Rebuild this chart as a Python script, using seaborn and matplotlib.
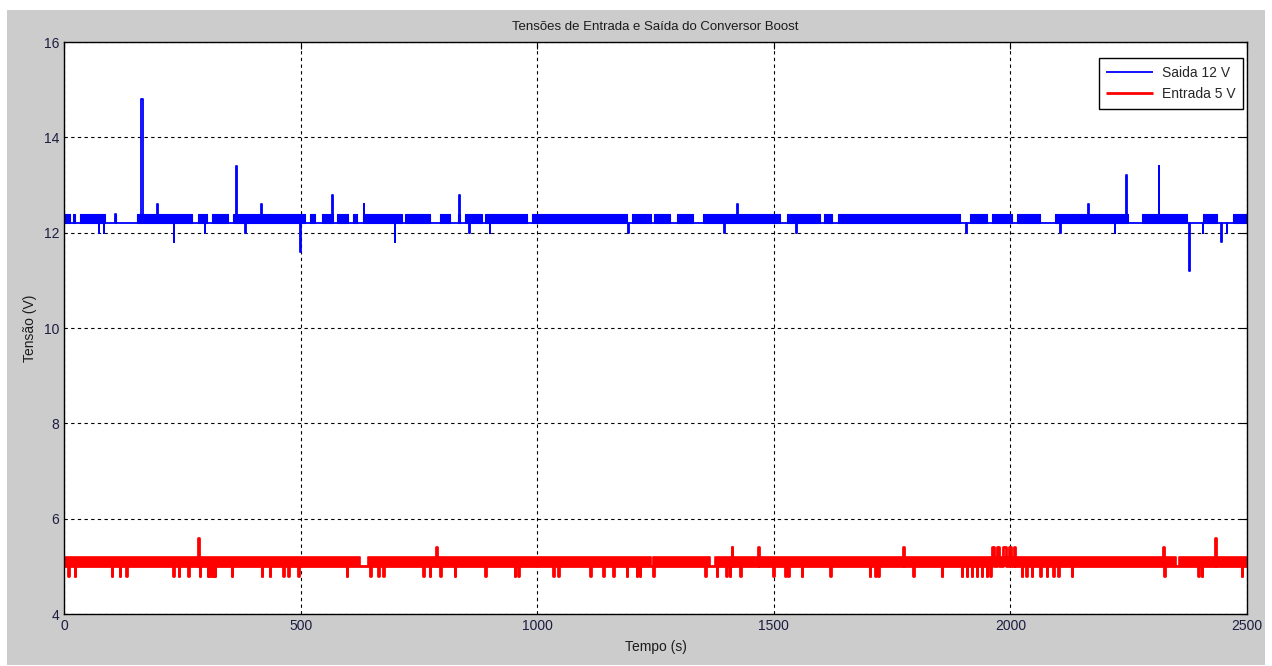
import matplotlib
matplotlib.use("Agg")
import matplotlib.pyplot as plt
import numpy as np
import pandas as pd
import seaborn as sns
from matplotlib.patches import Rectangle

# Output voltage (blue): sits at 12.2 V and flickers up to 12.4 V
saida_low = 12.2
saida_high = 12.4
# stretches where the output stays flat at 12.2 V (no flicker)
saida_gap_start = [13, 23, 87, 109, 270, 302, 347, 509, 530, 569, 600, 619, 714, 773, 816, 837, 883, 978,
                   1190, 1240, 1281, 1329, 1513, 1598, 1623, 1893, 1950, 2003, 2063, 2249, 2373, 2436]
saida_gap_end = [19, 34, 107, 154, 283, 313, 357, 520, 545, 577, 611, 632, 721, 795, 833, 847, 890, 989,
                 1200, 1246, 1295, 1350, 1528, 1606, 1636, 1915, 1961, 2014, 2094, 2278, 2407, 2471]
# spikes and dips: time (s), value (V), duration (s)
saida_ev_t = [73, 84, 108, 163, 196, 232, 298, 363, 383, 416, 499, 566, 634, 699, 835, 856, 900, 1192,
              1395, 1422, 1546, 1907, 2105, 2164, 2221, 2244, 2313, 2377, 2407, 2445, 2457]
saida_ev_v = [12.0, 12.0, 12.4, 14.8, 12.6, 11.8, 12.0, 13.4, 12.0, 12.6, 11.6, 12.8, 12.6, 11.8, 12.8, 12.0,
              12.0, 12.0, 12.0, 12.6, 12.0, 12.0, 12.0, 12.6, 12.0, 13.2, 13.4, 11.2, 12.0, 11.8, 12.0]
saida_ev_d = [1, 1, 1, 4, 2, 1, 1, 3, 1, 2, 1, 2, 1, 1, 2, 1, 1, 1, 1, 2, 2, 1, 1, 2, 1, 3, 2, 2, 1, 2, 1]

# Input voltage (red): sits at 5.0 V and flickers up to 5.2 V
entrada_low = 5.0
entrada_high = 5.2
entrada_gap_start = [626, 1240, 1365, 1460, 2350]
entrada_gap_end = [643, 1244, 1376, 1463, 2356]
entrada_ev_t = [9, 23, 101, 118, 132, 231, 242, 263, 283, 287, 304, 309, 314, 319, 354, 418, 435, 463, 474,
                495, 597, 647, 664, 675, 759, 773, 787, 795, 826, 890, 953, 960, 1034, 1045, 1112, 1140,
                1161, 1189, 1210, 1217, 1245, 1355, 1379, 1400, 1407, 1411, 1429, 1467, 1499, 1524, 1531,
                1559, 1619, 1703, 1714, 1721, 1774, 1795, 1855, 1897, 1908, 1918, 1929, 1939, 1950, 1957,
                1962, 1972, 1985, 1998, 2008, 2024, 2034, 2045, 2063, 2077, 2091, 2101, 2130, 2323, 2325,
                2397, 2404, 2433, 2489]
entrada_ev_v = [4.8, 4.8, 4.8, 4.8, 4.8, 4.8, 4.8, 4.8, 5.6, 4.8, 4.8, 4.8, 4.8, 4.8, 4.8, 4.8, 4.8, 4.8, 4.8,
                4.8, 4.8, 4.8, 4.8, 4.8, 4.8, 4.8, 5.4, 4.8, 4.8, 4.8, 4.8, 4.8, 4.8, 4.8, 4.8, 4.8,
                4.8, 4.8, 4.8, 4.8, 4.8, 4.8, 4.8, 4.8, 4.8, 5.4, 4.8, 5.4, 4.8, 4.8, 4.8,
                4.8, 4.8, 4.8, 4.8, 4.8, 5.4, 4.8, 4.8, 4.8, 4.8, 4.8, 4.8, 4.8, 4.8, 4.8,
                5.4, 5.4, 5.4, 5.4, 5.4, 4.8, 4.8, 4.8, 4.8, 4.8, 4.8, 4.8, 4.8, 5.4, 4.8,
                4.8, 4.8, 5.6, 4.8]
entrada_ev_d = [1, 1, 1, 1, 1, 1, 1, 1, 2, 1, 1, 1, 1, 1, 1, 1, 1, 1, 1,
                1, 1, 1, 1, 1, 1, 1, 1, 1, 1, 1, 1, 1, 1, 1, 1, 1,
                1, 1, 1, 1, 1, 1, 1, 1, 1, 1, 1, 1, 1, 1, 1,
                1, 1, 1, 1, 1, 1, 1, 1, 1, 1, 1, 1, 1, 1, 1,
                4, 3, 6, 4, 2, 1, 1, 1, 1, 1, 1, 1, 1, 1, 1,
                1, 1, 1, 1]

t_end = 2500
x_ticks = [0, 500, 1000, 1500, 2000, 2500]
y_ticks = [4, 6, 8, 10, 12, 14, 16]


def build_trace(low, ev_t, ev_v, ev_d):
    # baseline with the spikes/dips drawn as short excursions
    xs, ys = [0], [low]
    for t, v, d in sorted(zip(ev_t, ev_v, ev_d)):
        xs += [t, t, t + d, t + d]
        ys += [low, v, v, low]
    xs.append(t_end)
    ys.append(low)
    return xs, ys


def band_spans(gap_start, gap_end):
    # flicker band everywhere except the flat stretches
    spans = []
    a = 0
    for s, e in zip(gap_start, gap_end):
        spans.append((a, s))
        a = e
    spans.append((a, t_end))
    return spans


sx, sy = build_trace(saida_low, saida_ev_t, saida_ev_v, saida_ev_d)
ex, ey = build_trace(entrada_low, entrada_ev_t, entrada_ev_v, entrada_ev_d)
df_saida = pd.DataFrame({"Tempo": sx, "Tensao": sy})
df_entrada = pd.DataFrame({"Tempo": ex, "Tensao": ey})

sns.set_style("white")
plt.rcParams["font.family"] = ["Liberation Sans", "DejaVu Sans"]

fig = plt.figure(figsize=(12.72, 6.66), dpi=100)
fig.patch.set_facecolor("white")
fig.patches.append(Rectangle((7 / 1272, 1 / 666), 1258 / 1272, 655 / 666, transform=fig.transFigure,
                             facecolor="#cccccc", edgecolor="none", zorder=-10))
ax = fig.add_axes([64 / 1272, 52 / 666, 1183 / 1272, 572 / 666])
ax.set_zorder(1)
ax.set_facecolor("white")

for a, b in band_spans(saida_gap_start, saida_gap_end):
    ax.fill_between([a, b], saida_low, saida_high, color="#0000ff", lw=0.8, zorder=3)
for a, b in band_spans(entrada_gap_start, entrada_gap_end):
    ax.fill_between([a, b], entrada_low, entrada_high, color="#ff0000", lw=1.2, zorder=3)

sns.lineplot(data=df_saida, x="Tempo", y="Tensao", sort=False, estimator=None, color="#0000ff",
             lw=1.3, label="Saida 12 V", ax=ax, zorder=4)
sns.lineplot(data=df_entrada, x="Tempo", y="Tensao", sort=False, estimator=None, color="#ff0000",
             lw=2, label="Entrada 5 V", ax=ax, zorder=4)

ax.set_xlim(0, t_end)
ax.set_ylim(4, 16)
ax.set_xticks(x_ticks)
ax.set_yticks(y_ticks)
ax.grid(True, color="black", linestyle=(0, (3, 3)), lw=0.8)
ax.tick_params(direction="in", length=5, top=True, right=True, colors="black",
               labelcolor="#1c1c40", labelsize=10)
for sp in ax.spines.values():
    sp.set_color("black")
    sp.set_linewidth(1)
    sp.set_zorder(5)

ax.set_title("Tensões de Entrada e Saída do Conversor Boost", fontsize=9.5, color="#1c1c1c", pad=9)
ax.set_xlabel("Tempo (s)", fontsize=10, color="#1c1c1c", labelpad=5)
ax.set_ylabel("Tensão (V)", fontsize=10, color="#1c1c1c", labelpad=5)

leg = ax.legend(loc="upper right", bbox_to_anchor=(0.9966, 0.972), borderaxespad=0, fontsize=10,
                fancybox=False, framealpha=1, edgecolor="black", handlelength=3.4,
                handletextpad=0.6, borderpad=0.55, labelspacing=0.55)
leg.get_frame().set_linewidth(1)
for line in leg.get_lines():
    line.set_solid_capstyle("butt")

fig.savefig("out.png", dpi=100, facecolor=fig.get_facecolor())
